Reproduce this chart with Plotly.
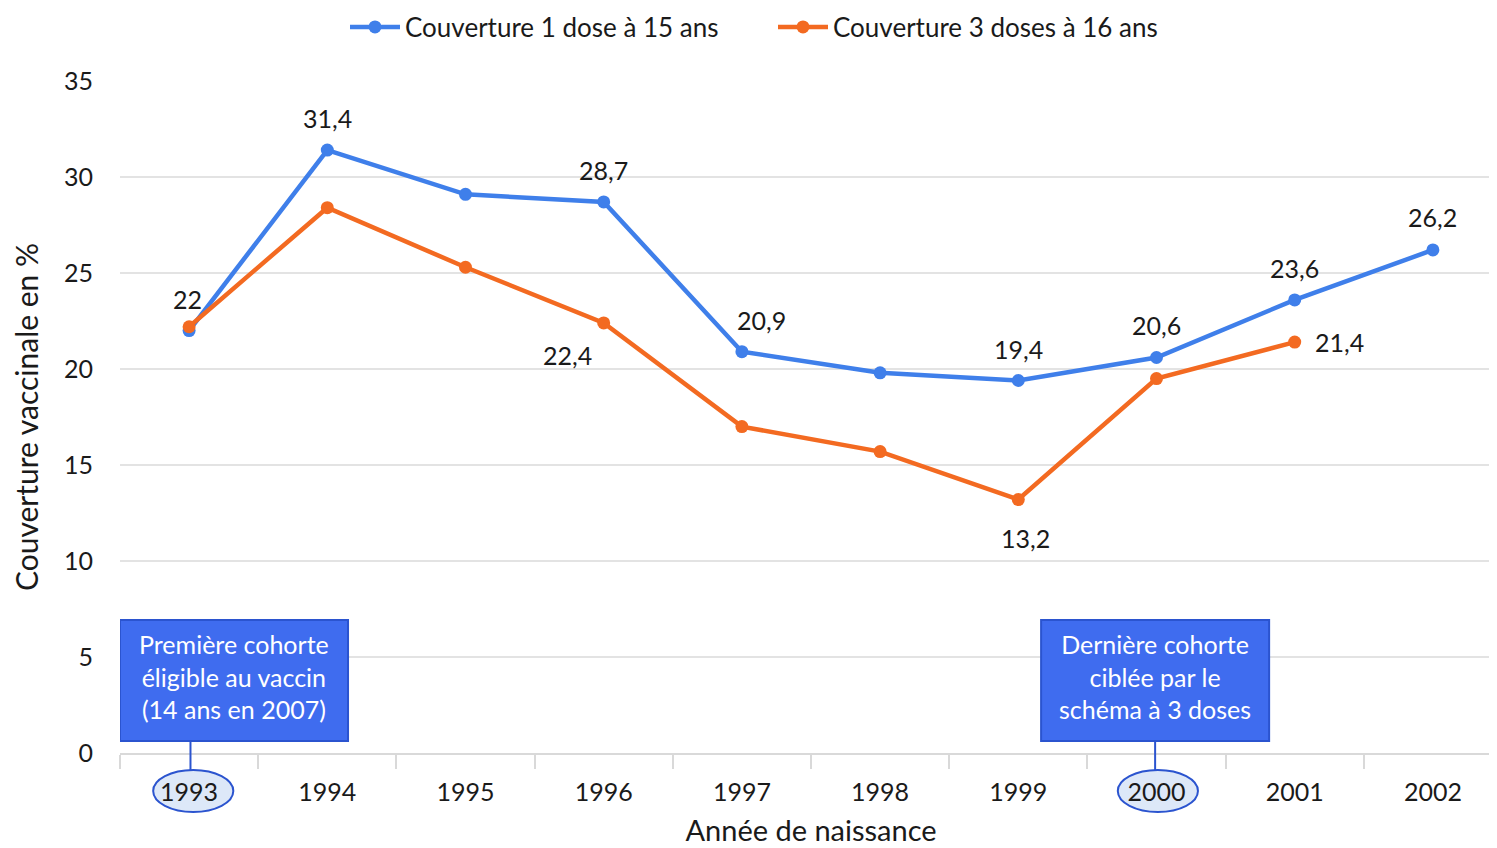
import plotly.graph_objects as go

# data
years = ["1993", "1994", "1995", "1996", "1997", "1998", "1999", "2000", "2001", "2002"]
dose1 = [22, 31.4, 29.1, 28.7, 20.9, 19.8, 19.4, 20.6, 23.6, 26.2]
dose3 = [22.2, 28.4, 25.3, 22.4, 17.0, 15.7, 13.2, 19.5, 21.4, None]
name1 = "Couverture 1 dose à 15 ans"
name3 = "Couverture 3 doses à 16 ans"

# which points get a value label, and where (pixel offsets)
labels1 = {0: (-2, 32), 1: (0, 32), 3: (0, 32), 4: (20, 32), 6: (0, 32), 7: (0, 32), 8: (0, 32), 9: (0, 33)}
labels3 = {3: (-36, -32), 6: (7, -38), 8: (45, 0)}

note1 = "Première cohorte<br>éligible au vaccin<br>(14 ans en 2007)"
note2 = "Dernière cohorte<br>ciblée par le<br>schéma à 3 doses"

blue = "#3f7fea"
orange = "#f36a21"
box_fill = "#3f6cef"
box_line = "#2b54cf"
font = "Lato"
txt = "#1a1a1a"


def fmt(v):
    s = ("%.1f" % v).rstrip("0").rstrip(".")
    return s.replace(".", ",")


fig = go.Figure()
fig.add_trace(go.Scatter(x=years, y=dose1, name=name1, mode="lines+markers",
                         line=dict(color=blue, width=4.5), marker=dict(size=13, color=blue)))
fig.add_trace(go.Scatter(x=years, y=dose3, name=name3, mode="lines+markers",
                         line=dict(color=orange, width=4.5), marker=dict(size=13, color=orange)))

annots = []
for series, labs in ((dose1, labels1), (dose3, labels3)):
    for i, (dx, dy) in labs.items():
        annots.append(dict(x=i, y=series[i], xref="x", yref="y", text=fmt(series[i]), showarrow=False,
                           xshift=dx, yshift=dy, font=dict(family=font, size=25, color=txt)))

# note boxes
shapes = []
for (x0, x1, xc, xl, txtn) in ((-0.5, 1.15, 0.325, 0.01, note1), (6.165, 7.815, 6.99, 6.99, note2)):
    shapes.append(dict(type="rect", xref="x", yref="y", x0=x0, x1=x1, y0=0.63, y1=6.93,
                       fillcolor=box_fill, line=dict(color=box_line, width=2), layer="above"))
    shapes.append(dict(type="line", xref="x", yref="paper", x0=xl, x1=xl, y0=0.018, y1=-0.0253,
                       line=dict(color=box_line, width=2)))
    shapes.append(dict(type="circle", xref="x", yref="paper", x0=xl - 0.27, x1=xl + 0.31,
                       y0=-0.0253, y1=-0.0878, fillcolor="#dde8f8", line=dict(color=box_line, width=2),
                       layer="below"))
    annots.append(dict(x=xc, y=3.98, xref="x", yref="y", text=txtn, showarrow=False,
                       font=dict(family=font, size=25, color="white"), align="center"))

fig.update_layout(
    width=1497, height=848,
    margin=dict(l=112, r=3, t=73, b=103),
    paper_bgcolor="white", plot_bgcolor="white",
    font=dict(family=font, size=25, color=txt),
    showlegend=True,
    legend=dict(orientation="h", xref="container", yref="container",
                x=337 / 1497, xanchor="left", y=1 - 19 / 848, yanchor="middle",
                font=dict(family=font, size=26, color=txt), itemwidth=50, entrywidth=363),
    xaxis=dict(type="category", range=[-0.5, 9.5], showgrid=False, showline=True, automargin=False,
               linecolor="#d9d9d9", linewidth=2, ticks="outside", tickson="boundaries",
               ticklen=14, tickcolor="#d9d9d9", tickwidth=2, ticklabelstandoff=16,
               tickfont=dict(family=font, size=25, color=txt),
               title=dict(text="Année de naissance", font=dict(family=font, size=29, color=txt), standoff=16)),
    yaxis=dict(range=[0, 35], dtick=5, showgrid=True, gridcolor="#e3e3e3", gridwidth=1.5,
               zeroline=False, ticklabelstandoff=26, automargin=False,
               tickfont=dict(family=font, size=25, color=txt),
               title=dict(text="Couverture vaccinale en %", font=dict(family=font, size=30, color=txt), standoff=23)),
    annotations=annots,
    shapes=shapes,
)

fig.write_html("out.html")
